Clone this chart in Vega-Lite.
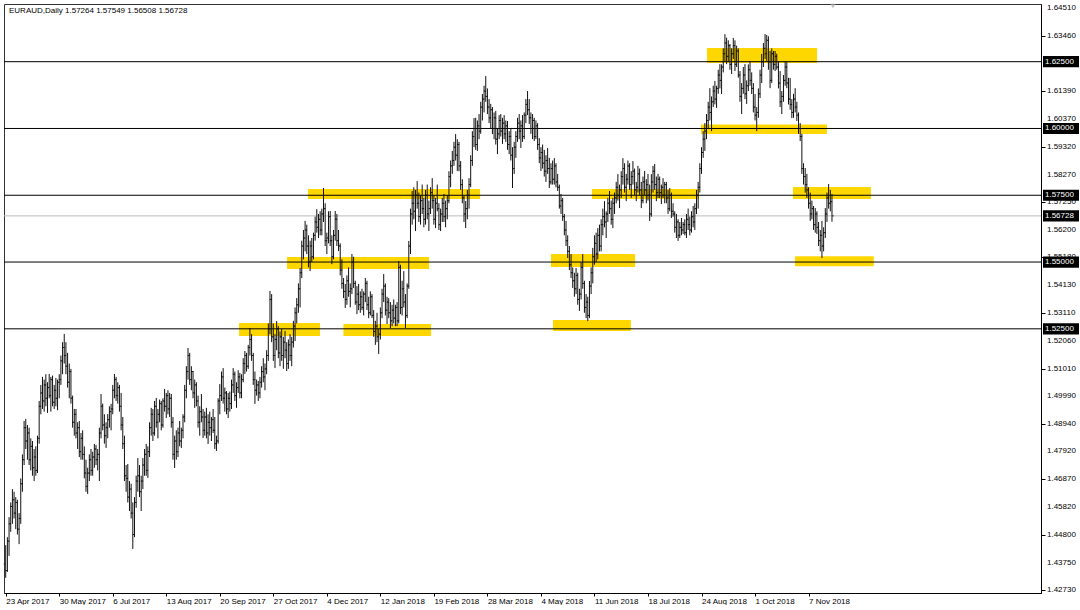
{
"$schema":"https://vega.github.io/schema/vega-lite/v6.json",
"width":1037,"height":589,
"padding":{"left":3,"top":3,"right":0,"bottom":0},
"autosize":{"type":"pad"},
"background":"white",
"config":{"view":{"stroke":"#333","strokeWidth":1},"font":"Liberation Sans","axis":{"labelFont":"Liberation Sans","labelFontSize":8,"labelColor":"#000","tickColor":"#000","domainColor":"#000","grid":false}},
"datasets":{
"bars":[
{"i":0,"o":1.437,"h":1.444,"l":1.4318,"c":1.4345},
{"i":1,"o":1.4345,"h":1.447,"l":1.434,"c":1.4455},
{"i":2,"o":1.4455,"h":1.4545,"l":1.44,"c":1.452},
{"i":3,"o":1.452,"h":1.46,"l":1.449,"c":1.4585},
{"i":4,"o":1.4585,"h":1.465,"l":1.452,"c":1.461},
{"i":5,"o":1.461,"h":1.464,"l":1.454,"c":1.456},
{"i":6,"o":1.456,"h":1.462,"l":1.45,"c":1.46},
{"i":7,"o":1.46,"h":1.461,"l":1.448,"c":1.45},
{"i":8,"o":1.45,"h":1.456,"l":1.4444,"c":1.454},
{"i":9,"o":1.454,"h":1.469,"l":1.452,"c":1.467},
{"i":10,"o":1.467,"h":1.478,"l":1.464,"c":1.476},
{"i":11,"o":1.476,"h":1.4905,"l":1.474,"c":1.488},
{"i":12,"o":1.488,"h":1.4913,"l":1.48,"c":1.483},
{"i":13,"o":1.483,"h":1.489,"l":1.476,"c":1.486},
{"i":14,"o":1.486,"h":1.488,"l":1.474,"c":1.476},
{"i":15,"o":1.476,"h":1.484,"l":1.472,"c":1.481},
{"i":16,"o":1.481,"h":1.483,"l":1.47,"c":1.473},
{"i":17,"o":1.473,"h":1.48,"l":1.468,"c":1.477},
{"i":18,"o":1.477,"h":1.481,"l":1.47,"c":1.472},
{"i":19,"o":1.472,"h":1.485,"l":1.471,"c":1.484},
{"i":20,"o":1.484,"h":1.498,"l":1.482,"c":1.496},
{"i":21,"o":1.496,"h":1.504,"l":1.493,"c":1.501},
{"i":22,"o":1.501,"h":1.507,"l":1.495,"c":1.498},
{"i":23,"o":1.498,"h":1.506,"l":1.494,"c":1.504},
{"i":24,"o":1.504,"h":1.508,"l":1.496,"c":1.499},
{"i":25,"o":1.499,"h":1.505,"l":1.4935,"c":1.503},
{"i":26,"o":1.503,"h":1.5081,"l":1.499,"c":1.5},
{"i":27,"o":1.5,"h":1.507,"l":1.494,"c":1.506},
{"i":28,"o":1.506,"h":1.5075,"l":1.496,"c":1.4975},
{"i":29,"o":1.4975,"h":1.504,"l":1.495,"c":1.502},
{"i":30,"o":1.502,"h":1.5066,"l":1.496,"c":1.499},
{"i":31,"o":1.499,"h":1.506,"l":1.4945,"c":1.505},
{"i":32,"o":1.505,"h":1.508,"l":1.499,"c":1.506},
{"i":33,"o":1.506,"h":1.515,"l":1.504,"c":1.513},
{"i":34,"o":1.513,"h":1.52,"l":1.508,"c":1.518},
{"i":35,"o":1.518,"h":1.5231,"l":1.512,"c":1.515},
{"i":36,"o":1.515,"h":1.52,"l":1.508,"c":1.511},
{"i":37,"o":1.511,"h":1.516,"l":1.503,"c":1.505},
{"i":38,"o":1.505,"h":1.512,"l":1.499,"c":1.509},
{"i":39,"o":1.509,"h":1.51,"l":1.497,"c":1.499},
{"i":40,"o":1.499,"h":1.5,"l":1.488,"c":1.49},
{"i":41,"o":1.49,"h":1.495,"l":1.485,"c":1.493},
{"i":42,"o":1.493,"h":1.495,"l":1.484,"c":1.486},
{"i":43,"o":1.486,"h":1.49,"l":1.48,"c":1.488},
{"i":44,"o":1.488,"h":1.4905,"l":1.477,"c":1.479},
{"i":45,"o":1.479,"h":1.486,"l":1.476,"c":1.484},
{"i":46,"o":1.484,"h":1.487,"l":1.476,"c":1.478},
{"i":47,"o":1.478,"h":1.481,"l":1.469,"c":1.471},
{"i":48,"o":1.471,"h":1.476,"l":1.464,"c":1.466},
{"i":49,"o":1.466,"h":1.473,"l":1.4632,"c":1.471},
{"i":50,"o":1.471,"h":1.478,"l":1.468,"c":1.476},
{"i":51,"o":1.476,"h":1.48,"l":1.47,"c":1.472},
{"i":52,"o":1.472,"h":1.479,"l":1.47,"c":1.477},
{"i":53,"o":1.477,"h":1.4819,"l":1.473,"c":1.48},
{"i":54,"o":1.48,"h":1.4815,"l":1.474,"c":1.476},
{"i":55,"o":1.476,"h":1.48,"l":1.472,"c":1.478},
{"i":56,"o":1.478,"h":1.488,"l":1.468,"c":1.486},
{"i":57,"o":1.486,"h":1.5006,"l":1.484,"c":1.496},
{"i":58,"o":1.496,"h":1.497,"l":1.487,"c":1.489},
{"i":59,"o":1.489,"h":1.493,"l":1.482,"c":1.485},
{"i":60,"o":1.485,"h":1.49,"l":1.4804,"c":1.488},
{"i":61,"o":1.488,"h":1.4931,"l":1.484,"c":1.491},
{"i":62,"o":1.491,"h":1.496,"l":1.488,"c":1.494},
{"i":63,"o":1.494,"h":1.4969,"l":1.487,"c":1.495},
{"i":64,"o":1.495,"h":1.504,"l":1.493,"c":1.502},
{"i":65,"o":1.502,"h":1.5081,"l":1.499,"c":1.506},
{"i":66,"o":1.506,"h":1.507,"l":1.498,"c":1.5},
{"i":67,"o":1.5,"h":1.505,"l":1.497,"c":1.503},
{"i":68,"o":1.503,"h":1.504,"l":1.494,"c":1.496},
{"i":69,"o":1.496,"h":1.501,"l":1.487,"c":1.489},
{"i":70,"o":1.489,"h":1.492,"l":1.48,"c":1.482},
{"i":71,"o":1.482,"h":1.485,"l":1.468,"c":1.47},
{"i":72,"o":1.47,"h":1.474,"l":1.464,"c":1.469},
{"i":73,"o":1.469,"h":1.4744,"l":1.46,"c":1.462},
{"i":74,"o":1.462,"h":1.468,"l":1.4568,"c":1.465},
{"i":75,"o":1.465,"h":1.467,"l":1.454,"c":1.456},
{"i":76,"o":1.456,"h":1.46,"l":1.4426,"c":1.448},
{"i":77,"o":1.448,"h":1.462,"l":1.447,"c":1.46},
{"i":78,"o":1.46,"h":1.47,"l":1.458,"c":1.468},
{"i":79,"o":1.468,"h":1.4766,"l":1.464,"c":1.47},
{"i":80,"o":1.47,"h":1.474,"l":1.462,"c":1.464},
{"i":81,"o":1.464,"h":1.47,"l":1.4568,"c":1.468},
{"i":82,"o":1.468,"h":1.4766,"l":1.465,"c":1.474},
{"i":83,"o":1.474,"h":1.48,"l":1.47,"c":1.478},
{"i":84,"o":1.478,"h":1.4819,"l":1.47,"c":1.472},
{"i":85,"o":1.472,"h":1.481,"l":1.4692,"c":1.479},
{"i":86,"o":1.479,"h":1.49,"l":1.477,"c":1.488},
{"i":87,"o":1.488,"h":1.4954,"l":1.485,"c":1.493},
{"i":88,"o":1.493,"h":1.495,"l":1.483,"c":1.486},
{"i":89,"o":1.486,"h":1.498,"l":1.485,"c":1.496},
{"i":90,"o":1.496,"h":1.4991,"l":1.488,"c":1.49},
{"i":91,"o":1.49,"h":1.495,"l":1.484,"c":1.493},
{"i":92,"o":1.493,"h":1.4985,"l":1.49,"c":1.497},
{"i":93,"o":1.497,"h":1.498,"l":1.487,"c":1.489},
{"i":94,"o":1.489,"h":1.499,"l":1.488,"c":1.498},
{"i":95,"o":1.498,"h":1.5025,"l":1.494,"c":1.496},
{"i":96,"o":1.496,"h":1.501,"l":1.4916,"c":1.5},
{"i":97,"o":1.5,"h":1.502,"l":1.493,"c":1.495},
{"i":98,"o":1.495,"h":1.501,"l":1.492,"c":1.499},
{"i":99,"o":1.499,"h":1.5006,"l":1.488,"c":1.49},
{"i":100,"o":1.49,"h":1.492,"l":1.476,"c":1.478},
{"i":101,"o":1.478,"h":1.485,"l":1.4729,"c":1.483},
{"i":102,"o":1.483,"h":1.487,"l":1.476,"c":1.479},
{"i":103,"o":1.479,"h":1.488,"l":1.477,"c":1.486},
{"i":104,"o":1.486,"h":1.4905,"l":1.481,"c":1.483},
{"i":105,"o":1.483,"h":1.488,"l":1.4804,"c":1.487},
{"i":106,"o":1.487,"h":1.493,"l":1.484,"c":1.492},
{"i":107,"o":1.492,"h":1.504,"l":1.49,"c":1.502},
{"i":108,"o":1.502,"h":1.511,"l":1.499,"c":1.509},
{"i":109,"o":1.509,"h":1.5178,"l":1.506,"c":1.515},
{"i":110,"o":1.515,"h":1.516,"l":1.504,"c":1.506},
{"i":111,"o":1.506,"h":1.511,"l":1.502,"c":1.509},
{"i":112,"o":1.509,"h":1.5092,"l":1.499,"c":1.501},
{"i":113,"o":1.501,"h":1.506,"l":1.4954,"c":1.504},
{"i":114,"o":1.504,"h":1.505,"l":1.496,"c":1.498},
{"i":115,"o":1.498,"h":1.5,"l":1.488,"c":1.49},
{"i":116,"o":1.49,"h":1.496,"l":1.485,"c":1.494},
{"i":117,"o":1.494,"h":1.5006,"l":1.49,"c":1.492},
{"i":118,"o":1.492,"h":1.495,"l":1.4841,"c":1.487},
{"i":119,"o":1.487,"h":1.494,"l":1.485,"c":1.492},
{"i":120,"o":1.492,"h":1.4954,"l":1.484,"c":1.486},
{"i":121,"o":1.486,"h":1.493,"l":1.4819,"c":1.49},
{"i":122,"o":1.49,"h":1.494,"l":1.485,"c":1.488},
{"i":123,"o":1.488,"h":1.492,"l":1.483,"c":1.491},
{"i":124,"o":1.491,"h":1.495,"l":1.486,"c":1.487},
{"i":125,"o":1.487,"h":1.492,"l":1.48,"c":1.482},
{"i":126,"o":1.482,"h":1.485,"l":1.4793,"c":1.483},
{"i":127,"o":1.483,"h":1.499,"l":1.482,"c":1.498},
{"i":128,"o":1.498,"h":1.5043,"l":1.493,"c":1.5},
{"i":129,"o":1.5,"h":1.509,"l":1.498,"c":1.507},
{"i":130,"o":1.507,"h":1.5103,"l":1.497,"c":1.499},
{"i":131,"o":1.499,"h":1.503,"l":1.494,"c":1.501},
{"i":132,"o":1.501,"h":1.5017,"l":1.493,"c":1.495},
{"i":133,"o":1.495,"h":1.501,"l":1.4916,"c":1.499},
{"i":134,"o":1.499,"h":1.5015,"l":1.494,"c":1.497},
{"i":135,"o":1.497,"h":1.506,"l":1.495,"c":1.504},
{"i":136,"o":1.504,"h":1.5103,"l":1.501,"c":1.508},
{"i":137,"o":1.508,"h":1.509,"l":1.498,"c":1.5},
{"i":138,"o":1.5,"h":1.505,"l":1.4954,"c":1.503},
{"i":139,"o":1.503,"h":1.5095,"l":1.501,"c":1.507},
{"i":140,"o":1.507,"h":1.5085,"l":1.499,"c":1.501},
{"i":141,"o":1.501,"h":1.508,"l":1.499,"c":1.506},
{"i":142,"o":1.506,"h":1.514,"l":1.505,"c":1.512},
{"i":143,"o":1.512,"h":1.5167,"l":1.5081,"c":1.515},
{"i":144,"o":1.515,"h":1.516,"l":1.509,"c":1.511},
{"i":145,"o":1.511,"h":1.519,"l":1.51,"c":1.518},
{"i":146,"o":1.518,"h":1.5253,"l":1.515,"c":1.521},
{"i":147,"o":1.521,"h":1.523,"l":1.513,"c":1.515},
{"i":148,"o":1.515,"h":1.516,"l":1.504,"c":1.506},
{"i":149,"o":1.506,"h":1.509,"l":1.4969,"c":1.502},
{"i":150,"o":1.502,"h":1.506,"l":1.5,"c":1.504},
{"i":151,"o":1.504,"h":1.5055,"l":1.498,"c":1.501},
{"i":152,"o":1.501,"h":1.507,"l":1.499,"c":1.505},
{"i":153,"o":1.505,"h":1.511,"l":1.503,"c":1.509},
{"i":154,"o":1.509,"h":1.514,"l":1.505,"c":1.507},
{"i":155,"o":1.507,"h":1.512,"l":1.502,"c":1.51},
{"i":156,"o":1.51,"h":1.517,"l":1.508,"c":1.515},
{"i":157,"o":1.515,"h":1.527,"l":1.513,"c":1.525},
{"i":158,"o":1.525,"h":1.5392,"l":1.523,"c":1.536},
{"i":159,"o":1.536,"h":1.538,"l":1.52,"c":1.522},
{"i":160,"o":1.522,"h":1.527,"l":1.513,"c":1.515},
{"i":161,"o":1.515,"h":1.523,"l":1.5103,"c":1.521},
{"i":162,"o":1.521,"h":1.5279,"l":1.517,"c":1.525},
{"i":163,"o":1.525,"h":1.526,"l":1.514,"c":1.516},
{"i":164,"o":1.516,"h":1.524,"l":1.511,"c":1.522},
{"i":165,"o":1.522,"h":1.525,"l":1.513,"c":1.515},
{"i":166,"o":1.515,"h":1.522,"l":1.51,"c":1.52},
{"i":167,"o":1.52,"h":1.5242,"l":1.514,"c":1.517},
{"i":168,"o":1.517,"h":1.52,"l":1.5092,"c":1.512},
{"i":169,"o":1.512,"h":1.521,"l":1.51,"c":1.519},
{"i":170,"o":1.519,"h":1.523,"l":1.513,"c":1.515},
{"i":171,"o":1.515,"h":1.522,"l":1.511,"c":1.52},
{"i":172,"o":1.52,"h":1.528,"l":1.518,"c":1.526},
{"i":173,"o":1.526,"h":1.533,"l":1.5204,"c":1.531},
{"i":174,"o":1.531,"h":1.5365,"l":1.527,"c":1.534},
{"i":175,"o":1.534,"h":1.542,"l":1.531,"c":1.54},
{"i":176,"o":1.54,"h":1.5478,"l":1.533,"c":1.546},
{"i":177,"o":1.546,"h":1.558,"l":1.544,"c":1.556},
{"i":178,"o":1.556,"h":1.562,"l":1.551,"c":1.559},
{"i":179,"o":1.559,"h":1.5654,"l":1.554,"c":1.562},
{"i":180,"o":1.562,"h":1.564,"l":1.553,"c":1.556},
{"i":181,"o":1.556,"h":1.56,"l":1.548,"c":1.55},
{"i":182,"o":1.55,"h":1.558,"l":1.5466,"c":1.556},
{"i":183,"o":1.556,"h":1.559,"l":1.55,"c":1.552},
{"i":184,"o":1.552,"h":1.561,"l":1.551,"c":1.56},
{"i":185,"o":1.56,"h":1.567,"l":1.558,"c":1.565},
{"i":186,"o":1.565,"h":1.5698,"l":1.561,"c":1.563},
{"i":187,"o":1.563,"h":1.568,"l":1.559,"c":1.566},
{"i":188,"o":1.566,"h":1.569,"l":1.56,"c":1.562},
{"i":189,"o":1.562,"h":1.57,"l":1.56,"c":1.568},
{"i":190,"o":1.568,"h":1.5777,"l":1.565,"c":1.57},
{"i":191,"o":1.57,"h":1.572,"l":1.556,"c":1.558},
{"i":192,"o":1.558,"h":1.561,"l":1.553,"c":1.559},
{"i":193,"o":1.559,"h":1.569,"l":1.557,"c":1.567},
{"i":194,"o":1.567,"h":1.5691,"l":1.556,"c":1.558},
{"i":195,"o":1.558,"h":1.56,"l":1.5492,"c":1.552},
{"i":196,"o":1.552,"h":1.562,"l":1.551,"c":1.56},
{"i":197,"o":1.56,"h":1.5691,"l":1.558,"c":1.566},
{"i":198,"o":1.566,"h":1.568,"l":1.556,"c":1.558},
{"i":199,"o":1.558,"h":1.562,"l":1.5541,"c":1.556},
{"i":200,"o":1.556,"h":1.557,"l":1.545,"c":1.547},
{"i":201,"o":1.547,"h":1.551,"l":1.54,"c":1.542},
{"i":202,"o":1.542,"h":1.544,"l":1.5365,"c":1.539},
{"i":203,"o":1.539,"h":1.5418,"l":1.5328,"c":1.536},
{"i":204,"o":1.536,"h":1.545,"l":1.534,"c":1.543},
{"i":205,"o":1.543,"h":1.548,"l":1.537,"c":1.539},
{"i":206,"o":1.539,"h":1.542,"l":1.533,"c":1.54},
{"i":207,"o":1.54,"h":1.553,"l":1.538,"c":1.55},
{"i":208,"o":1.55,"h":1.552,"l":1.5403,"c":1.542},
{"i":209,"o":1.542,"h":1.543,"l":1.534,"c":1.535},
{"i":210,"o":1.535,"h":1.541,"l":1.5305,"c":1.538},
{"i":211,"o":1.538,"h":1.5418,"l":1.532,"c":1.534},
{"i":212,"o":1.534,"h":1.539,"l":1.531,"c":1.537},
{"i":213,"o":1.537,"h":1.54,"l":1.532,"c":1.533},
{"i":214,"o":1.533,"h":1.539,"l":1.53,"c":1.538},
{"i":215,"o":1.538,"h":1.544,"l":1.535,"c":1.542},
{"i":216,"o":1.542,"h":1.543,"l":1.532,"c":1.534},
{"i":217,"o":1.534,"h":1.537,"l":1.529,"c":1.531},
{"i":218,"o":1.531,"h":1.539,"l":1.53,"c":1.537},
{"i":219,"o":1.537,"h":1.538,"l":1.529,"c":1.53},
{"i":220,"o":1.53,"h":1.532,"l":1.522,"c":1.524},
{"i":221,"o":1.524,"h":1.528,"l":1.519,"c":1.526},
{"i":222,"o":1.526,"h":1.531,"l":1.52,"c":1.522},
{"i":223,"o":1.522,"h":1.525,"l":1.5156,"c":1.523},
{"i":224,"o":1.523,"h":1.533,"l":1.521,"c":1.531},
{"i":225,"o":1.531,"h":1.54,"l":1.529,"c":1.538},
{"i":226,"o":1.538,"h":1.5455,"l":1.535,"c":1.541},
{"i":227,"o":1.541,"h":1.542,"l":1.53,"c":1.532},
{"i":228,"o":1.532,"h":1.537,"l":1.5268,"c":1.535},
{"i":229,"o":1.535,"h":1.5365,"l":1.529,"c":1.531},
{"i":230,"o":1.531,"h":1.535,"l":1.5253,"c":1.528},
{"i":231,"o":1.528,"h":1.534,"l":1.526,"c":1.532},
{"i":232,"o":1.532,"h":1.536,"l":1.527,"c":1.529},
{"i":233,"o":1.529,"h":1.534,"l":1.526,"c":1.533},
{"i":234,"o":1.533,"h":1.535,"l":1.526,"c":1.528},
{"i":235,"o":1.528,"h":1.5504,"l":1.527,"c":1.548},
{"i":236,"o":1.548,"h":1.549,"l":1.5305,"c":1.533},
{"i":237,"o":1.533,"h":1.543,"l":1.53,"c":1.54},
{"i":238,"o":1.54,"h":1.5466,"l":1.533,"c":1.535},
{"i":239,"o":1.535,"h":1.538,"l":1.5253,"c":1.53},
{"i":240,"o":1.53,"h":1.542,"l":1.529,"c":1.541},
{"i":241,"o":1.541,"h":1.5579,"l":1.54,"c":1.556},
{"i":242,"o":1.556,"h":1.57,"l":1.553,"c":1.568},
{"i":243,"o":1.568,"h":1.5766,"l":1.564,"c":1.572},
{"i":244,"o":1.572,"h":1.578,"l":1.566,"c":1.569},
{"i":245,"o":1.569,"h":1.577,"l":1.5616,"c":1.575},
{"i":246,"o":1.575,"h":1.5803,"l":1.57,"c":1.572},
{"i":247,"o":1.572,"h":1.576,"l":1.565,"c":1.567},
{"i":248,"o":1.567,"h":1.575,"l":1.564,"c":1.573},
{"i":249,"o":1.573,"h":1.579,"l":1.568,"c":1.57},
{"i":250,"o":1.57,"h":1.574,"l":1.563,"c":1.566},
{"i":251,"o":1.566,"h":1.577,"l":1.564,"c":1.575},
{"i":252,"o":1.575,"h":1.579,"l":1.566,"c":1.568},
{"i":253,"o":1.568,"h":1.573,"l":1.5616,"c":1.57},
{"i":254,"o":1.57,"h":1.578,"l":1.568,"c":1.576},
{"i":255,"o":1.576,"h":1.5814,"l":1.57,"c":1.573},
{"i":256,"o":1.573,"h":1.575,"l":1.564,"c":1.566},
{"i":257,"o":1.566,"h":1.574,"l":1.5627,"c":1.572},
{"i":258,"o":1.572,"h":1.579,"l":1.569,"c":1.57},
{"i":259,"o":1.57,"h":1.572,"l":1.562,"c":1.564},
{"i":260,"o":1.564,"h":1.57,"l":1.5616,"c":1.568},
{"i":261,"o":1.568,"h":1.574,"l":1.565,"c":1.572},
{"i":262,"o":1.572,"h":1.5755,"l":1.565,"c":1.567},
{"i":263,"o":1.567,"h":1.573,"l":1.563,"c":1.57},
{"i":264,"o":1.57,"h":1.575,"l":1.566,"c":1.573},
{"i":265,"o":1.573,"h":1.584,"l":1.572,"c":1.582},
{"i":266,"o":1.582,"h":1.588,"l":1.578,"c":1.586},
{"i":267,"o":1.586,"h":1.5916,"l":1.583,"c":1.588},
{"i":268,"o":1.588,"h":1.595,"l":1.586,"c":1.593},
{"i":269,"o":1.593,"h":1.5979,"l":1.588,"c":1.59},
{"i":270,"o":1.59,"h":1.596,"l":1.5841,"c":1.594},
{"i":271,"o":1.594,"h":1.595,"l":1.584,"c":1.586},
{"i":272,"o":1.586,"h":1.5878,"l":1.577,"c":1.579},
{"i":273,"o":1.579,"h":1.581,"l":1.572,"c":1.574},
{"i":274,"o":1.574,"h":1.575,"l":1.565,"c":1.568},
{"i":275,"o":1.568,"h":1.5728,"l":1.5627,"c":1.57},
{"i":276,"o":1.57,"h":1.577,"l":1.566,"c":1.575},
{"i":277,"o":1.575,"h":1.5814,"l":1.57,"c":1.579},
{"i":278,"o":1.579,"h":1.59,"l":1.578,"c":1.588},
{"i":279,"o":1.588,"h":1.599,"l":1.586,"c":1.597},
{"i":280,"o":1.597,"h":1.6039,"l":1.593,"c":1.6},
{"i":281,"o":1.6,"h":1.604,"l":1.592,"c":1.594},
{"i":282,"o":1.594,"h":1.603,"l":1.5916,"c":1.601},
{"i":283,"o":1.601,"h":1.6054,"l":1.596,"c":1.599},
{"i":284,"o":1.599,"h":1.61,"l":1.598,"c":1.608},
{"i":285,"o":1.608,"h":1.6129,"l":1.603,"c":1.611},
{"i":286,"o":1.611,"h":1.616,"l":1.606,"c":1.614},
{"i":287,"o":1.614,"h":1.6196,"l":1.61,"c":1.612},
{"i":288,"o":1.612,"h":1.615,"l":1.6054,"c":1.608},
{"i":289,"o":1.608,"h":1.611,"l":1.602,"c":1.604},
{"i":290,"o":1.604,"h":1.6092,"l":1.6,"c":1.607},
{"i":291,"o":1.607,"h":1.608,"l":1.5979,"c":1.6},
{"i":292,"o":1.6,"h":1.606,"l":1.596,"c":1.604},
{"i":293,"o":1.604,"h":1.6066,"l":1.594,"c":1.596},
{"i":294,"o":1.596,"h":1.6,"l":1.5904,"c":1.598},
{"i":295,"o":1.598,"h":1.605,"l":1.596,"c":1.603},
{"i":296,"o":1.603,"h":1.6054,"l":1.597,"c":1.599},
{"i":297,"o":1.599,"h":1.604,"l":1.5942,"c":1.602},
{"i":298,"o":1.602,"h":1.605,"l":1.596,"c":1.598},
{"i":299,"o":1.598,"h":1.603,"l":1.595,"c":1.601},
{"i":300,"o":1.601,"h":1.6028,"l":1.592,"c":1.594},
{"i":301,"o":1.594,"h":1.599,"l":1.5904,"c":1.597},
{"i":302,"o":1.597,"h":1.6,"l":1.588,"c":1.59},
{"i":303,"o":1.59,"h":1.593,"l":1.5777,"c":1.585},
{"i":304,"o":1.585,"h":1.595,"l":1.583,"c":1.593},
{"i":305,"o":1.593,"h":1.599,"l":1.589,"c":1.597},
{"i":306,"o":1.597,"h":1.604,"l":1.595,"c":1.602},
{"i":307,"o":1.602,"h":1.6054,"l":1.596,"c":1.599},
{"i":308,"o":1.599,"h":1.603,"l":1.5927,"c":1.601},
{"i":309,"o":1.601,"h":1.605,"l":1.595,"c":1.597},
{"i":310,"o":1.597,"h":1.606,"l":1.596,"c":1.605},
{"i":311,"o":1.605,"h":1.611,"l":1.602,"c":1.609},
{"i":312,"o":1.609,"h":1.614,"l":1.605,"c":1.607},
{"i":313,"o":1.607,"h":1.611,"l":1.6017,"c":1.604},
{"i":314,"o":1.604,"h":1.606,"l":1.598,"c":1.6},
{"i":315,"o":1.6,"h":1.6054,"l":1.596,"c":1.603},
{"i":316,"o":1.603,"h":1.604,"l":1.5953,"c":1.597},
{"i":317,"o":1.597,"h":1.603,"l":1.596,"c":1.601},
{"i":318,"o":1.601,"h":1.602,"l":1.592,"c":1.594},
{"i":319,"o":1.594,"h":1.5964,"l":1.587,"c":1.589},
{"i":320,"o":1.589,"h":1.593,"l":1.5841,"c":1.591},
{"i":321,"o":1.591,"h":1.594,"l":1.585,"c":1.587},
{"i":322,"o":1.587,"h":1.592,"l":1.582,"c":1.584},
{"i":323,"o":1.584,"h":1.59,"l":1.58,"c":1.588},
{"i":324,"o":1.588,"h":1.5927,"l":1.583,"c":1.585},
{"i":325,"o":1.585,"h":1.589,"l":1.5777,"c":1.58},
{"i":326,"o":1.58,"h":1.587,"l":1.579,"c":1.585},
{"i":327,"o":1.585,"h":1.588,"l":1.579,"c":1.581},
{"i":328,"o":1.581,"h":1.5889,"l":1.579,"c":1.586},
{"i":329,"o":1.586,"h":1.587,"l":1.578,"c":1.58},
{"i":330,"o":1.58,"h":1.583,"l":1.5766,"c":1.578},
{"i":331,"o":1.578,"h":1.579,"l":1.57,"c":1.571},
{"i":332,"o":1.571,"h":1.5755,"l":1.568,"c":1.573},
{"i":333,"o":1.573,"h":1.574,"l":1.5654,"c":1.567},
{"i":334,"o":1.567,"h":1.568,"l":1.56,"c":1.562},
{"i":335,"o":1.562,"h":1.5654,"l":1.556,"c":1.558},
{"i":336,"o":1.558,"h":1.56,"l":1.5515,"c":1.554},
{"i":337,"o":1.554,"h":1.556,"l":1.547,"c":1.549},
{"i":338,"o":1.549,"h":1.553,"l":1.544,"c":1.546},
{"i":339,"o":1.546,"h":1.548,"l":1.5403,"c":1.543},
{"i":340,"o":1.543,"h":1.546,"l":1.537,"c":1.54},
{"i":341,"o":1.54,"h":1.5478,"l":1.538,"c":1.545},
{"i":342,"o":1.545,"h":1.546,"l":1.534,"c":1.536},
{"i":343,"o":1.536,"h":1.54,"l":1.5317,"c":1.538},
{"i":344,"o":1.538,"h":1.55,"l":1.536,"c":1.548},
{"i":345,"o":1.548,"h":1.553,"l":1.54,"c":1.542},
{"i":346,"o":1.542,"h":1.543,"l":1.531,"c":1.533},
{"i":347,"o":1.533,"h":1.538,"l":1.529,"c":1.535},
{"i":348,"o":1.535,"h":1.537,"l":1.5279,"c":1.53},
{"i":349,"o":1.53,"h":1.5429,"l":1.529,"c":1.541},
{"i":350,"o":1.541,"h":1.548,"l":1.538,"c":1.546},
{"i":351,"o":1.546,"h":1.5553,"l":1.542,"c":1.552},
{"i":352,"o":1.552,"h":1.56,"l":1.549,"c":1.557},
{"i":353,"o":1.557,"h":1.561,"l":1.55,"c":1.553},
{"i":354,"o":1.553,"h":1.5627,"l":1.551,"c":1.56},
{"i":355,"o":1.56,"h":1.564,"l":1.554,"c":1.556},
{"i":356,"o":1.556,"h":1.566,"l":1.554,"c":1.564},
{"i":357,"o":1.564,"h":1.57,"l":1.56,"c":1.567},
{"i":358,"o":1.567,"h":1.5728,"l":1.563,"c":1.565},
{"i":359,"o":1.565,"h":1.569,"l":1.559,"c":1.568},
{"i":360,"o":1.568,"h":1.574,"l":1.565,"c":1.572},
{"i":361,"o":1.572,"h":1.5766,"l":1.568,"c":1.57},
{"i":362,"o":1.57,"h":1.573,"l":1.564,"c":1.566},
{"i":363,"o":1.566,"h":1.574,"l":1.5627,"c":1.572},
{"i":364,"o":1.572,"h":1.576,"l":1.568,"c":1.574},
{"i":365,"o":1.574,"h":1.58,"l":1.572,"c":1.578},
{"i":366,"o":1.578,"h":1.5829,"l":1.573,"c":1.575},
{"i":367,"o":1.575,"h":1.579,"l":1.5702,"c":1.577},
{"i":368,"o":1.577,"h":1.584,"l":1.574,"c":1.582},
{"i":369,"o":1.582,"h":1.5889,"l":1.579,"c":1.585},
{"i":370,"o":1.585,"h":1.587,"l":1.576,"c":1.578},
{"i":371,"o":1.578,"h":1.583,"l":1.5728,"c":1.581},
{"i":372,"o":1.581,"h":1.588,"l":1.579,"c":1.586},
{"i":373,"o":1.586,"h":1.587,"l":1.577,"c":1.579},
{"i":374,"o":1.579,"h":1.584,"l":1.574,"c":1.582},
{"i":375,"o":1.582,"h":1.5878,"l":1.579,"c":1.584},
{"i":376,"o":1.584,"h":1.585,"l":1.575,"c":1.577},
{"i":377,"o":1.577,"h":1.58,"l":1.5728,"c":1.578},
{"i":378,"o":1.578,"h":1.586,"l":1.576,"c":1.583},
{"i":379,"o":1.583,"h":1.585,"l":1.575,"c":1.577},
{"i":380,"o":1.577,"h":1.58,"l":1.5702,"c":1.573},
{"i":381,"o":1.573,"h":1.582,"l":1.572,"c":1.58},
{"i":382,"o":1.58,"h":1.5841,"l":1.575,"c":1.577},
{"i":383,"o":1.577,"h":1.581,"l":1.572,"c":1.579},
{"i":384,"o":1.579,"h":1.583,"l":1.573,"c":1.575},
{"i":385,"o":1.575,"h":1.579,"l":1.5654,"c":1.568},
{"i":386,"o":1.568,"h":1.5829,"l":1.567,"c":1.58},
{"i":387,"o":1.58,"h":1.586,"l":1.576,"c":1.584},
{"i":388,"o":1.584,"h":1.5867,"l":1.577,"c":1.579},
{"i":389,"o":1.579,"h":1.582,"l":1.5728,"c":1.576},
{"i":390,"o":1.576,"h":1.583,"l":1.574,"c":1.581},
{"i":391,"o":1.581,"h":1.582,"l":1.574,"c":1.576},
{"i":392,"o":1.576,"h":1.579,"l":1.5717,"c":1.578},
{"i":393,"o":1.578,"h":1.5814,"l":1.574,"c":1.575},
{"i":394,"o":1.575,"h":1.58,"l":1.572,"c":1.579},
{"i":395,"o":1.579,"h":1.58,"l":1.572,"c":1.574},
{"i":396,"o":1.574,"h":1.577,"l":1.568,"c":1.57},
{"i":397,"o":1.57,"h":1.5777,"l":1.569,"c":1.575},
{"i":398,"o":1.575,"h":1.576,"l":1.5665,"c":1.569},
{"i":399,"o":1.569,"h":1.572,"l":1.567,"c":1.568},
{"i":400,"o":1.568,"h":1.569,"l":1.561,"c":1.563},
{"i":401,"o":1.563,"h":1.568,"l":1.559,"c":1.565},
{"i":402,"o":1.565,"h":1.566,"l":1.5579,"c":1.56},
{"i":403,"o":1.56,"h":1.565,"l":1.559,"c":1.563},
{"i":404,"o":1.563,"h":1.5665,"l":1.56,"c":1.562},
{"i":405,"o":1.562,"h":1.565,"l":1.5605,"c":1.564},
{"i":406,"o":1.564,"h":1.566,"l":1.56,"c":1.561},
{"i":407,"o":1.561,"h":1.568,"l":1.559,"c":1.566},
{"i":408,"o":1.566,"h":1.57,"l":1.562,"c":1.564},
{"i":409,"o":1.564,"h":1.567,"l":1.56,"c":1.562},
{"i":410,"o":1.562,"h":1.569,"l":1.561,"c":1.567},
{"i":411,"o":1.567,"h":1.571,"l":1.563,"c":1.565},
{"i":412,"o":1.565,"h":1.572,"l":1.562,"c":1.57},
{"i":413,"o":1.57,"h":1.577,"l":1.568,"c":1.575},
{"i":414,"o":1.575,"h":1.58,"l":1.57,"c":1.578},
{"i":415,"o":1.578,"h":1.587,"l":1.576,"c":1.585},
{"i":416,"o":1.585,"h":1.593,"l":1.583,"c":1.591},
{"i":417,"o":1.591,"h":1.599,"l":1.589,"c":1.596},
{"i":418,"o":1.596,"h":1.602,"l":1.5916,"c":1.599},
{"i":419,"o":1.599,"h":1.6054,"l":1.596,"c":1.603},
{"i":420,"o":1.603,"h":1.61,"l":1.6,"c":1.608},
{"i":421,"o":1.608,"h":1.6151,"l":1.603,"c":1.606},
{"i":422,"o":1.606,"h":1.612,"l":1.599,"c":1.61},
{"i":423,"o":1.61,"h":1.616,"l":1.608,"c":1.614},
{"i":424,"o":1.614,"h":1.6178,"l":1.609,"c":1.611},
{"i":425,"o":1.611,"h":1.616,"l":1.6077,"c":1.615},
{"i":426,"o":1.615,"h":1.622,"l":1.613,"c":1.62},
{"i":427,"o":1.62,"h":1.6241,"l":1.615,"c":1.618},
{"i":428,"o":1.618,"h":1.624,"l":1.6129,"c":1.623},
{"i":429,"o":1.623,"h":1.63,"l":1.621,"c":1.628},
{"i":430,"o":1.628,"h":1.6353,"l":1.625,"c":1.632},
{"i":431,"o":1.632,"h":1.634,"l":1.6241,"c":1.627},
{"i":432,"o":1.627,"h":1.633,"l":1.625,"c":1.631},
{"i":433,"o":1.631,"h":1.6316,"l":1.622,"c":1.624},
{"i":434,"o":1.624,"h":1.63,"l":1.6204,"c":1.628},
{"i":435,"o":1.628,"h":1.6339,"l":1.626,"c":1.631},
{"i":436,"o":1.631,"h":1.633,"l":1.6215,"c":1.624},
{"i":437,"o":1.624,"h":1.631,"l":1.623,"c":1.629},
{"i":438,"o":1.629,"h":1.63,"l":1.619,"c":1.62},
{"i":439,"o":1.62,"h":1.6215,"l":1.61,"c":1.612},
{"i":440,"o":1.612,"h":1.617,"l":1.6054,"c":1.615},
{"i":441,"o":1.615,"h":1.623,"l":1.613,"c":1.62},
{"i":442,"o":1.62,"h":1.6241,"l":1.611,"c":1.613},
{"i":443,"o":1.613,"h":1.618,"l":1.6092,"c":1.616},
{"i":444,"o":1.616,"h":1.624,"l":1.614,"c":1.622},
{"i":445,"o":1.622,"h":1.6252,"l":1.616,"c":1.618},
{"i":446,"o":1.618,"h":1.621,"l":1.6129,"c":1.615},
{"i":447,"o":1.615,"h":1.617,"l":1.606,"c":1.608},
{"i":448,"o":1.608,"h":1.6129,"l":1.603,"c":1.605},
{"i":449,"o":1.605,"h":1.608,"l":1.599,"c":1.606},
{"i":450,"o":1.606,"h":1.615,"l":1.604,"c":1.613},
{"i":451,"o":1.613,"h":1.622,"l":1.6114,"c":1.62},
{"i":452,"o":1.62,"h":1.6279,"l":1.617,"c":1.625},
{"i":453,"o":1.625,"h":1.632,"l":1.623,"c":1.63},
{"i":454,"o":1.63,"h":1.6353,"l":1.626,"c":1.628},
{"i":455,"o":1.628,"h":1.635,"l":1.6252,"c":1.633},
{"i":456,"o":1.633,"h":1.6345,"l":1.622,"c":1.625},
{"i":457,"o":1.625,"h":1.629,"l":1.6151,"c":1.618},
{"i":458,"o":1.618,"h":1.63,"l":1.617,"c":1.628},
{"i":459,"o":1.628,"h":1.629,"l":1.622,"c":1.624},
{"i":460,"o":1.624,"h":1.629,"l":1.6215,"c":1.627},
{"i":461,"o":1.627,"h":1.628,"l":1.622,"c":1.623},
{"i":462,"o":1.623,"h":1.625,"l":1.615,"c":1.617},
{"i":463,"o":1.617,"h":1.6215,"l":1.608,"c":1.61},
{"i":464,"o":1.61,"h":1.614,"l":1.6054,"c":1.612},
{"i":465,"o":1.612,"h":1.62,"l":1.61,"c":1.618},
{"i":466,"o":1.618,"h":1.6252,"l":1.616,"c":1.623},
{"i":467,"o":1.623,"h":1.625,"l":1.6151,"c":1.617},
{"i":468,"o":1.617,"h":1.619,"l":1.609,"c":1.611},
{"i":469,"o":1.611,"h":1.6189,"l":1.607,"c":1.609},
{"i":470,"o":1.609,"h":1.611,"l":1.6039,"c":1.606},
{"i":471,"o":1.606,"h":1.613,"l":1.604,"c":1.611},
{"i":472,"o":1.611,"h":1.6151,"l":1.606,"c":1.608},
{"i":473,"o":1.608,"h":1.61,"l":1.6028,"c":1.605},
{"i":474,"o":1.605,"h":1.606,"l":1.598,"c":1.6},
{"i":475,"o":1.6,"h":1.602,"l":1.5953,"c":1.597},
{"i":476,"o":1.597,"h":1.598,"l":1.583,"c":1.585},
{"i":477,"o":1.585,"h":1.587,"l":1.579,"c":1.582},
{"i":478,"o":1.582,"h":1.5852,"l":1.576,"c":1.579},
{"i":479,"o":1.579,"h":1.583,"l":1.574,"c":1.577},
{"i":480,"o":1.577,"h":1.578,"l":1.57,"c":1.572},
{"i":481,"o":1.572,"h":1.576,"l":1.5654,"c":1.568},
{"i":482,"o":1.568,"h":1.573,"l":1.566,"c":1.57},
{"i":483,"o":1.57,"h":1.571,"l":1.562,"c":1.564},
{"i":484,"o":1.564,"h":1.5702,"l":1.561,"c":1.568},
{"i":485,"o":1.568,"h":1.569,"l":1.5605,"c":1.563},
{"i":486,"o":1.563,"h":1.565,"l":1.556,"c":1.558},
{"i":487,"o":1.558,"h":1.562,"l":1.554,"c":1.56},
{"i":488,"o":1.56,"h":1.5654,"l":1.5515,"c":1.556},
{"i":489,"o":1.556,"h":1.563,"l":1.554,"c":1.561},
{"i":490,"o":1.561,"h":1.5702,"l":1.559,"c":1.568},
{"i":491,"o":1.568,"h":1.576,"l":1.565,"c":1.574},
{"i":492,"o":1.574,"h":1.5792,"l":1.57,"c":1.572},
{"i":493,"o":1.572,"h":1.577,"l":1.569,"c":1.5726},
{"i":494,"o":1.57264,"h":1.57549,"l":1.56508,"c":1.56728}
],
"zones":[
{"x1":419.3,"x2":485.1,"y1":1.6301,"y2":1.6245},
{"x1":415.7,"x2":491.0,"y1":1.6015,"y2":1.5979},
{"x1":180.7,"x2":283.6,"y1":1.5773,"y2":1.5736},
{"x1":350.5,"x2":414.5,"y1":1.5773,"y2":1.5736},
{"x1":470.7,"x2":517.3,"y1":1.5781,"y2":1.5736},
{"x1":168.2,"x2":253.1,"y1":1.5519,"y2":1.5474},
{"x1":326.0,"x2":376.3,"y1":1.553,"y2":1.5481},
{"x1":471.9,"x2":519.0,"y1":1.5522,"y2":1.5484},
{"x1":139.5,"x2":187.9,"y1":1.5272,"y2":1.5223},
{"x1":201.9,"x2":254.3,"y1":1.5268,"y2":1.5223},
{"x1":327.2,"x2":373.8,"y1":1.5283,"y2":1.5242}
],
"levels":[{"p":1.625},{"p":1.6},{"p":1.575},{"p":1.55},{"p":1.525}],
"yt":[{"v":1.6451,"lab":"1.64510"},{"v":1.6346,"lab":"1.63460"},{"v":1.6241,"lab":"1.62410"},{"v":1.6139,"lab":"1.61390"},{"v":1.6037,"lab":"1.60370"},{"v":1.5932,"lab":"1.59320"},{"v":1.5827,"lab":"1.58270"},{"v":1.5725,"lab":"1.57250"},{"v":1.562,"lab":"1.56200"},{"v":1.5518,"lab":"1.55180"},{"v":1.5413,"lab":"1.54130"},{"v":1.5311,"lab":"1.53110"},{"v":1.5206,"lab":"1.52060"},{"v":1.5101,"lab":"1.51010"},{"v":1.4999,"lab":"1.49990"},{"v":1.4894,"lab":"1.48940"},{"v":1.4792,"lab":"1.47920"},{"v":1.4687,"lab":"1.46870"},{"v":1.4582,"lab":"1.45820"},{"v":1.448,"lab":"1.44800"},{"v":1.4375,"lab":"1.43750"},{"v":1.4273,"lab":"1.42730"}],
"tags":[{"p":1.625,"lab":"1.62500"},{"p":1.6,"lab":"1.60000"},{"p":1.575,"lab":"1.57500"},{"p":1.56728,"lab":"1.56728"},{"p":1.55,"lab":"1.55000"},{"p":1.525,"lab":"1.52500"}],
"head":[{"t":"EURAUD,Daily  1.57264 1.57549 1.56508 1.56728"}]
},
"layer":[
{"data":{"name":"zones"},"mark":{"type":"rect","color":"#FFD700"},
 "encoding":{"x":{"field":"x1","type":"quantitative","title":null,"scale":{"domain":[-1.02,618.97],"nice":false,"zero":false},
   "axis":{"orient":"bottom","title":null,"values":[0,32,64,96,128,160,192,224,256,288,320,352,384,416,448,480],"labelExpr":"['23 Apr 2017','30 May 2017','6 Jul 2017','13 Aug 2017','20 Sep 2017','27 Oct 2017','4 Dec 2017','12 Jan 2018','19 Feb 2018','28 Mar 2018','4 May 2018','11 Jun 2018','18 Jul 2018','24 Aug 2018','1 Oct 2018','7 Nov 2018'][round(datum.value/32)]","labelAlign":"left","labelBound":false,"labelFlush":false,"labelOverlap":false,"tickSize":3,"labelPadding":1}},
 "x2":{"field":"x2","title":null},
 "y":{"field":"y1","type":"quantitative","title":null,"scale":{"domain":[1.4261,1.6466],"nice":false,"zero":false},
   "axis":{"orient":"right","title":null,"values":[1.6451,1.6346,1.6241,1.6139,1.6037,1.5932,1.5827,1.5725,1.562,1.5518,1.5413,1.5311,1.5206,1.5101,1.4999,1.4894,1.4792,1.4687,1.4582,1.448,1.4375,1.4273],"labels":false,"tickSize":4}},
 "y2":{"field":"y2","title":null}}},
{"data":{"name":"levels"},"mark":{"type":"rule","color":"#000","strokeWidth":1},
 "encoding":{"y":{"field":"p","type":"quantitative","title":null}}},
{"data":{"values":[{"p":1.56728}]},"mark":{"type":"rule","color":"#BBBBBB","strokeWidth":1},
 "encoding":{"y":{"field":"p","type":"quantitative","title":null}}},
{"data":{"name":"bars"},"mark":{"type":"rule","color":"#111","strokeWidth":1},
 "encoding":{"x":{"field":"i","type":"quantitative","title":null},"y":{"field":"l","type":"quantitative","title":null},"y2":{"field":"h","title":null}}},
{"data":{"name":"bars"},"mark":{"type":"tick","orient":"horizontal","color":"#111","size":2,"thickness":1,"xOffset":-1},
 "encoding":{"x":{"field":"i","type":"quantitative","title":null},"y":{"field":"o","type":"quantitative","title":null}}},
{"data":{"name":"bars"},"mark":{"type":"tick","orient":"horizontal","color":"#111","size":2,"thickness":1,"xOffset":1},
 "encoding":{"x":{"field":"i","type":"quantitative","title":null},"y":{"field":"c","type":"quantitative","title":null}}},
{"data":{"name":"yt"},"mark":{"type":"text","color":"#000","align":"left","baseline":"middle","dx":6,"fontSize":8,"font":"Liberation Sans"},
 "encoding":{"x":{"datum":618.97,"type":"quantitative","title":null},"y":{"field":"v","type":"quantitative","title":null},"text":{"field":"lab"}}},
{"data":{"name":"tags"},"mark":{"type":"point","shape":"M0.1,-0.28L1.9,-0.28L1.9,0.28L0.1,0.28Z","size":1600,"filled":true,"fill":"#000","strokeWidth":0,"opacity":1},
 "encoding":{"x":{"datum":618.97,"type":"quantitative","title":null},"y":{"field":"p","type":"quantitative","title":null}}},
{"data":{"name":"tags"},"mark":{"type":"text","color":"#fff","align":"left","baseline":"middle","dx":4,"fontSize":8,"font":"Liberation Sans"},
 "encoding":{"x":{"datum":618.97,"type":"quantitative","title":null},"y":{"field":"p","type":"quantitative","title":null},"text":{"field":"lab"}}},
{"data":{"name":"head"},"mark":{"type":"text","color":"#000","align":"left","baseline":"middle","dx":5,"dy":7,"fontSize":8,"font":"Liberation Sans"},
 "encoding":{"x":{"datum":-1.02,"type":"quantitative","title":null},"y":{"datum":1.6466,"type":"quantitative","title":null},"text":{"field":"t"}}},
{"data":{"values":[{"k":1}]},"mark":{"type":"point","shape":"triangle-down","size":30,"filled":true,"color":"#AAAAAA","yOffset":2},
 "encoding":{"x":{"datum":494.6,"type":"quantitative","title":null},"y":{"datum":1.6466,"type":"quantitative","title":null}}}
]
}
